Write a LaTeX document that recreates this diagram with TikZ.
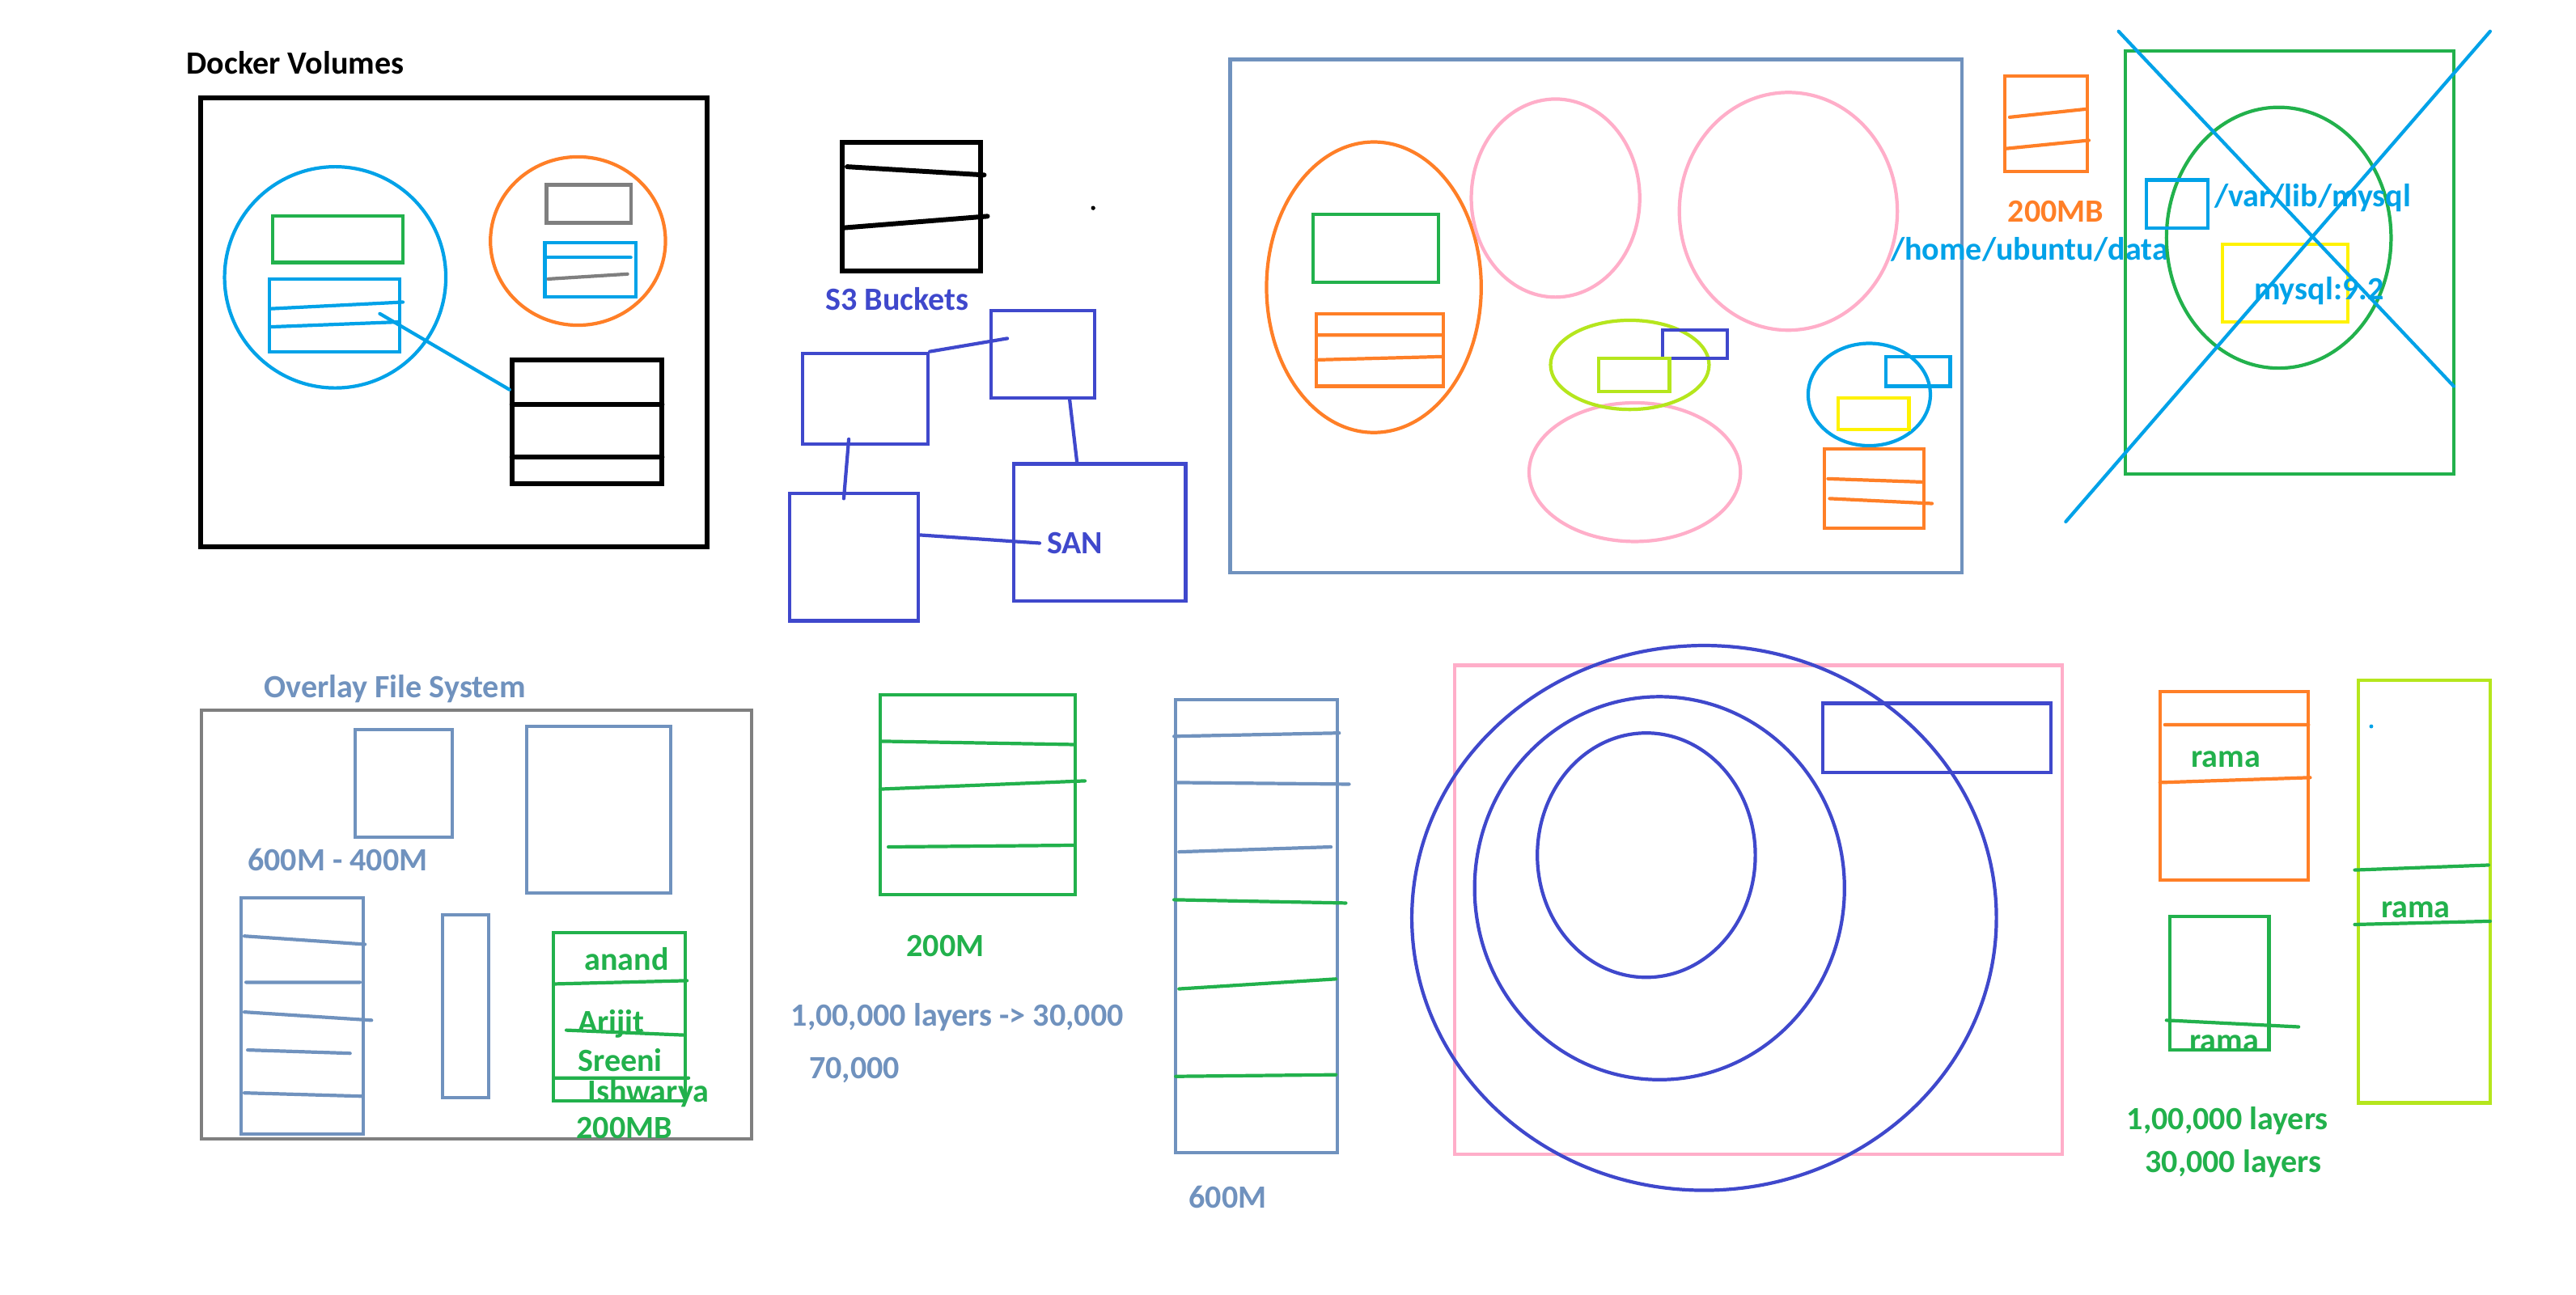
\documentclass[tikz,border=0pt]{standalone}
\usepackage{fontspec}
\setmainfont{Carlito}
\usepackage{tikz}
\usetikzlibrary{fit,calc}

\definecolor{pblue}{HTML}{00A2E8}
\definecolor{porange}{HTML}{FF7F27}
\definecolor{pgreen}{HTML}{22B14C}
\definecolor{pslate}{HTML}{7092BE}
\definecolor{pindigo}{HTML}{3F48CC}
\definecolor{ppink}{HTML}{FFAEC9}
\definecolor{plime}{HTML}{B5E61D}
\definecolor{pyellow}{HTML}{FFF200}
\definecolor{pgrey}{HTML}{7F7F7F}

\begin{document}
\begin{tikzpicture}[x=0.02041cm,y=-0.02041cm,line width=1.2pt,line cap=round,
  every node/.style={inner sep=0pt},
  box/.style={draw,fit={#1}},
  lbl/.style={anchor=west,font=\bfseries\fontsize{11.4}{13}\selectfont}]
\useasboundingbox[fill=white] (0,0) rectangle (1560,784);

% docker volumes
\node[lbl] (tdock) at (112,38) {Docker Volumes};
\node[box={(121.5,59.5) (428,331)},line width=1.7pt] (dock) {};
\draw[pblue] (203,168) ellipse [x radius=67,y radius=67];
\node[box={(165,131) (244,159)},pgreen] (vgreen) {};
\node[box={(163,169) (242,213)},pblue] (vol) {};
\draw[pblue] (164,187) -- (244,183) (164,198) -- (242,195);
\node[box={(310,218) (401,293)},line width=1.7pt] (stack) {};
\draw[line width=1.7pt] (310,245) -- (401,245) (310,277) -- (401,277);
\draw[porange] (350,146) ellipse [x radius=53,y radius=51];
\node[box={(331,112) (382,135)},pgrey] (cgrey) {};
\node[box={(330,147) (385,180)},pblue] (cblue) {};
\draw[pblue] (331,156) -- (382,156);
\draw[pgrey] (332,169) -- (380,166);
\coordinate (volpt) at (230,190);
\draw[pblue] (volpt) -- ($(stack.north west)!0.25!(stack.south west)$);

% s3 and san
\node[box={(510,86) (594,164)},line width=1.7pt] (s3) {};
\draw[line width=1.7pt] (513,101) -- (596,106) (511,138) -- (598,131);
\fill (662,126) circle (1.3);
\node[lbl,pindigo] (ts3) at (499,181) {S3 Buckets};
\node[box={(486,214) (562,269)},pindigo] (sa) {};
\node[box={(600,188) (663,241)},pindigo] (sb) {};
\node[box={(478,299) (556,376)},pindigo] (sc) {};
\node[box={(614,281) (718,364)},pindigo] (san) {};
\node[lbl,pindigo] (tsan) at (633,329) {SAN};
\coordinate (sbin) at (610,205);
\coordinate (sain) at (514,266);
\coordinate (scin) at (511,302);
\draw[pindigo] (sa.north east) -- (sbin);
\draw[pindigo] ($(sb.south west)!0.75!(sb.south east)$) -- ($(san.north west)!0.37!(san.north east)$);
\draw[pindigo] (sain) -- (scin);
\draw[pindigo] ($(sc.north east)!0.33!(sc.south east)$) -- ([xshift=-2pt]tsan.west);

% containers
\node[box={(745,36) (1188,347)},pslate] (host) {};
\draw[porange] (832,174) ellipse [x radius=65,y radius=88];
\node[box={(795,130) (871,171)},pgreen] (hgreen) {};
\node[box={(797,190) (874,234)},porange] (horange) {};
\draw[porange] (798,203) -- (874,203) (797,218) -- (874,216);
\draw[ppink] (942,120) ellipse [x radius=51,y radius=60];
\draw[ppink] (1083,128) ellipse [x radius=66,y radius=72];
\draw[ppink] (990,286) ellipse [x radius=64,y radius=42];
\draw[plime] (987,221) ellipse [x radius=48,y radius=27];
\node[box={(1007,200) (1046,217)},pindigo] (hindigo) {};
\node[box={(968,217) (1011,237)},plime] (hlime) {};
\draw[pblue] (1132,239) ellipse [x radius=37,y radius=31];
\node[box={(1142,216) (1181,234)},pblue] (hblue) {};
\node[box={(1113,241) (1156,260)},pyellow] (hyellow) {};
\node[box={(1105,272) (1165,320)},porange] (hlayers) {};
\draw[porange] (1107,290) -- (1165,292) (1108,302) -- (1170,305);

% mysql
\node[box={(1214,46) (1264,104)},porange] (disk) {};
\draw[porange] (1217,71) -- (1264,66) (1215,90) -- (1265,85);
\node[lbl,porange] (tdisk) at (1215,128) {200MB};
\node[lbl,pblue] (thome) at (1144,151) {/home/ubuntu/data};
\node[box={(1287,31) (1486,287)},pgreen] (mysql) {};
\draw[pgreen] (1380,144) ellipse [x radius=68,y radius=79];
\node[box={(1300,109) (1337,138)},pblue] (mnt) {};
\node[lbl,pblue] (tvar) at (1340,120) {/var/lib/mysql};
\node[box={(1346,148) (1422,195)},pyellow] (img) {};
\node[lbl,pblue] (timg) at (1364,176) {mysql:9.2};
\draw[pblue] (1283,19) -- (1486,234) (1508,19) -- (1251,316);

% overlay file system
\node[lbl,pslate] (tover) at (159,417) {Overlay File System};
\node[box={(122,430) (455,690)},pgrey] (over) {};
\node[box={(215,442) (274,507)},pslate] (ov1) {};
\node[box={(319,440) (406,541)},pslate] (ov2) {};
\node[lbl,pslate] (tsize) at (149,521) {600M - 400M};
\node[box={(146,544) (220,687)},pslate] (ov3) {};
\draw[pslate] (148,567) -- (221,572) (149,595) -- (218,595) (148,613) -- (225,618)
  (150,636) -- (212,638) (148,662) -- (219,664);
\node[box={(268,554) (296,665)},pslate] (ov4) {};
\node[box={(335,565) (415,667)},pgreen] (ov5) {};
\draw[pgreen] (336,596) -- (416,594) (343,624) -- (415,627) (336,653) -- (417,653);
\node[lbl,pgreen] (tanand) at (353,581) {anand};
\node[lbl,pgreen] (tarijit) at (349,620) {Arijit};
\node[lbl,pgreen] (tsreeni) at (349,642) {Sreeni};
\node[lbl,pgreen] (tishw) at (355,662) {Ishwarya};
\node[lbl,pgreen] (tov5) at (348,683) {200MB};

% layers
\node[box={(533,421) (651,542)},pgreen] (img2) {};
\draw[pgreen] (534,449) -- (651,451) (533,478) -- (657,473) (538,513) -- (650,512);
\node[lbl,pgreen] (timg2) at (548,573) {200M};
\node[lbl,pslate] (tlay) at (478,616) {1,00,000 layers -> 30,000};
\node[lbl,pslate] (tlay2) at (489,648) {70,000};
\node[box={(712,424) (810,698)},pslate] (img3) {};
\draw[pslate] (711,446) -- (811,444) (712,474) -- (817,475) (714,516) -- (806,513);
\draw[pgreen] (711,545) -- (815,547) (714,599) -- (809,593) (712,652) -- (809,651);
\node[lbl,pslate] (timg3) at (719,725) {600M};

% rings
\node[box={(881,403) (1249,699)},ppink] (ring) {};
\draw[pindigo] (1032,556) ellipse [x radius=177,y radius=165];
\draw[pindigo] (1005,538) ellipse [x radius=112,y radius=116];
\draw[pindigo] (997,518) ellipse [x radius=66,y radius=74];
\node[box={(1104,426) (1242,468)},pindigo] (rblock) {};

% rama
\node[box={(1308,419) (1398,533)},porange] (r1) {};
\draw[porange] (1311,439) -- (1398,439) (1308,474) -- (1399,471);
\node[lbl,pgreen] (tr1) at (1326,460) {rama};
\node[box={(1314,555) (1374,636)},pgreen] (r2) {};
\draw[pgreen] (1312,618) -- (1392,622);
\node[lbl,pgreen] (tr2) at (1325,632) {rama};
\node[box={(1428,412) (1508,668)},plime] (r3) {};
\draw[pgreen] (1426,527) -- (1507,524) (1426,560) -- (1508,558);
\node[lbl,pgreen] (tr3) at (1441,551) {rama};
\fill[pblue] (1436,440) circle (1.2);
\node[lbl,pgreen] (tcount) at (1287,679) {1,00,000 layers};
\node[lbl,pgreen] (tcount2) at (1298,705) {30,000 layers};

\end{tikzpicture}
\end{document}
